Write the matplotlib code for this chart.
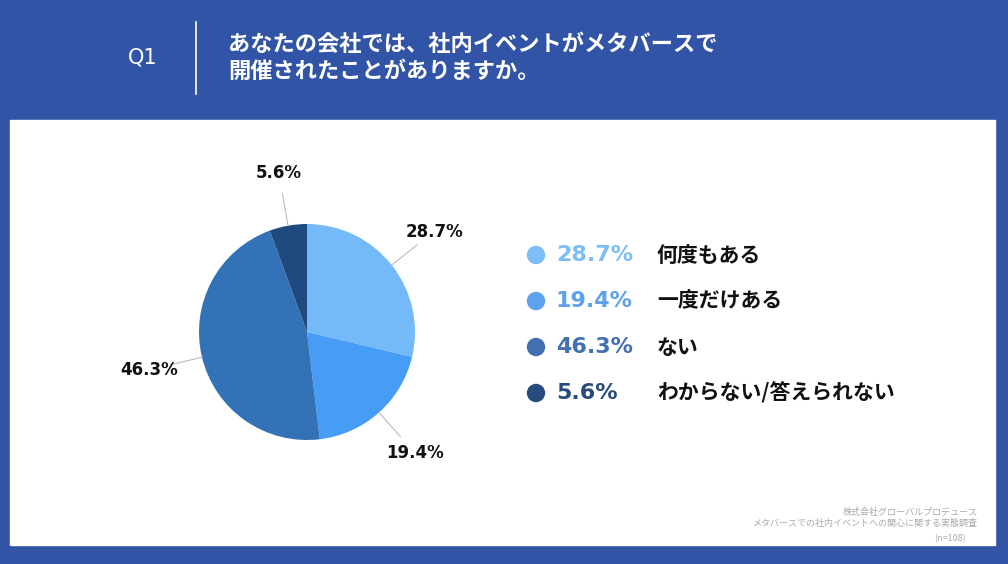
import numpy as np
import matplotlib.pyplot as plt
from matplotlib.patches import Rectangle, Circle

plt.rcParams["font.family"] = "Noto Sans CJK JP"

kategorien = ["何度もある", "一度だけある", "ない", "わからない/答えられない"]
anteile = [28.7, 19.4, 46.3, 5.6]
tortenfarben = ["#74BAF8", "#479CF5", "#3372B7", "#1E4A80"]
legendenfarben = ["#7CBDF6", "#5EA1EE", "#4270B0", "#284C7E"]

fig = plt.figure(figsize=(10.08, 5.64), dpi=100)
fig.patch.set_facecolor("#3254A6")

# Hintergrund / Texte in Pixelkoordinaten
bg = fig.add_axes([0, 0, 1, 1])
bg.set_xlim(0, 1008)
bg.set_ylim(564, 0)
bg.axis("off")
bg.add_patch(Rectangle((10, 120), 985, 425, color="white"))
bg.plot([196, 196], [22, 94], color="white", lw=1.2)
bg.text(143, 58, "Q1", color="white", fontsize=15, ha="center", va="center", family="DejaVu Sans")
bg.text(228, 58, "あなたの会社では、社内イベントがメタバースで\n開催されたことがありますか。",
        color="white", fontsize=16, fontweight="bold", ha="left", va="center", linespacing=1.25)

for i, (k, a) in enumerate(zip(kategorien, anteile)):
    y = 255 + i * 46
    bg.add_patch(Circle((536, y), 8.5, color=legendenfarben[i]))
    bg.text(556, y, f"{a}%", color=legendenfarben[i], fontsize=16, ha="left", va="center",
            family="DejaVu Sans", fontweight="semibold")
    bg.text(657, y, k, color="#111111", fontsize=15, fontweight="bold", ha="left", va="center")

bg.text(978, 518, "株式会社グローバルプロデュース\nメタバースでの社内イベントへの関心に関する実態調査",
        color="#AAAAAA", fontsize=6.5, ha="right", va="center", linespacing=1.2)
bg.text(966, 539, "(n=108)", color="#AAAAAA", fontsize=6.5, ha="right", va="center")

# Tortendiagramm
ax = fig.add_axes([199 / 1008, 124 / 564, 216 / 1008, 216 / 564])
wedges, _ = ax.pie(anteile, colors=tortenfarben, startangle=90, counterclock=False,
                   wedgeprops=dict(linewidth=0))
ax.set_xlim(-1, 1)
ax.set_ylim(-1, 1)
ax.set_aspect("equal")
for w, a in zip(wedges, anteile):
    winkel = np.deg2rad((w.theta1 + w.theta2) / 2)
    c, s = np.cos(winkel), np.sin(winkel)
    ax.plot([c * 1.0, c * 1.3], [s * 1.0, s * 1.3], color="#BBBBBB", lw=0.8, clip_on=False)
    ax.text(c * 1.5, s * 1.5, f"{a}%", ha="center", va="center", fontsize=12,
            family="DejaVu Sans", fontweight="bold", color="#111111", clip_on=False)

fig.savefig("out.png", dpi=100, facecolor=fig.get_facecolor())
